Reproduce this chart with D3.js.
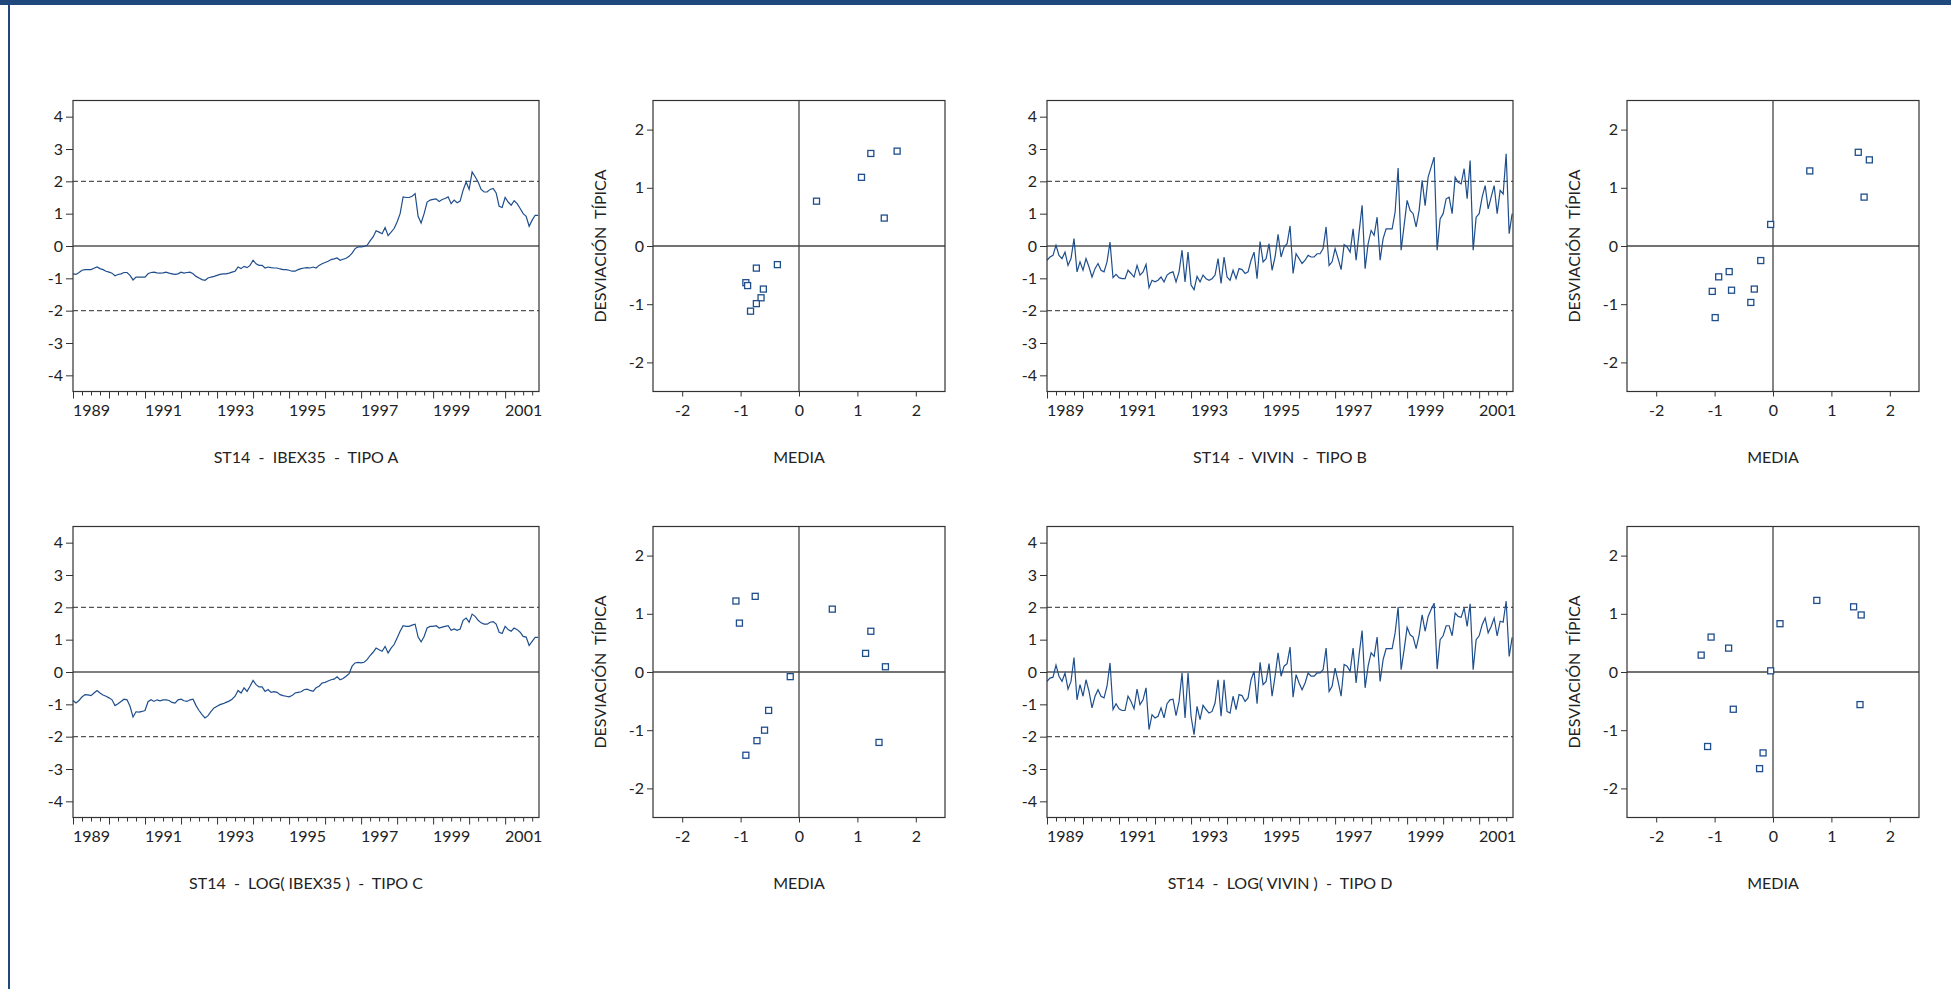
<!DOCTYPE html>
<html>
  <head>
    <title>ST14 - tipificadas</title>
    <script src="https://cdn.jsdelivr.net/npm/d3@7"></script>
    <style>
      body { margin: 0; background: #fff; }
      text { font-family: Lato, "Open Sans", sans-serif; fill: #222; }
    </style>
  </head>
  <body>
    <svg width="1951" height="989"></svg>
    <script>
      // monthly standardized series, 1989M01 .. 2001M12
      const ibex = [
        -0.86,-0.88,-0.82,-0.75,-0.73,-0.73,-0.73,-0.69,-0.65,-0.70,-0.73,-0.78,
        -0.81,-0.84,-0.92,-0.88,-0.86,-0.82,-0.82,-0.91,-1.05,-0.96,-0.96,-0.96,
        -0.96,-0.86,-0.82,-0.81,-0.83,-0.84,-0.83,-0.81,-0.84,-0.86,-0.88,-0.86,
        -0.81,-0.84,-0.82,-0.81,-0.86,-0.94,-0.99,-1.04,-1.06,-0.99,-0.96,-0.94,
        -0.91,-0.88,-0.86,-0.86,-0.84,-0.81,-0.78,-0.65,-0.70,-0.63,-0.67,-0.60,
        -0.44,-0.55,-0.60,-0.60,-0.68,-0.65,-0.67,-0.68,-0.68,-0.71,-0.73,-0.73,
        -0.75,-0.78,-0.78,-0.73,-0.70,-0.68,-0.67,-0.68,-0.65,-0.68,-0.60,-0.55,
        -0.51,-0.47,-0.42,-0.40,-0.37,-0.44,-0.41,-0.38,-0.32,-0.22,-0.08,-0.03,
        -0.03,-0.01,0.02,0.16,0.28,0.47,0.43,0.38,0.57,0.32,0.43,0.54,
        0.74,1.00,1.52,1.50,1.50,1.54,1.62,0.92,0.71,1.00,1.36,1.42,
        1.44,1.46,1.38,1.44,1.47,1.52,1.31,1.42,1.34,1.39,1.73,1.98,
        1.75,2.29,2.14,1.98,1.75,1.67,1.67,1.75,1.78,1.64,1.23,1.19,
        1.50,1.36,1.26,1.40,1.31,1.16,1.00,0.92,0.61,0.80,0.95,0.95
      ];
      const vivin = [
        -0.44,-0.34,-0.29,0.02,-0.29,-0.39,-0.19,-0.60,-0.39,0.23,-0.80,-0.49,
        -0.75,-0.39,-0.65,-0.96,-0.70,-0.54,-0.75,-0.80,-0.49,0.12,-0.98,-0.88,
        -0.98,-1.01,-1.01,-0.75,-0.85,-0.96,-0.60,-0.90,-0.80,-0.57,-1.29,-1.06,
        -1.11,-1.06,-0.96,-1.11,-0.90,-0.83,-0.80,-1.11,-0.80,-0.13,-1.11,-0.19,
        -1.21,-1.35,-0.94,-1.11,-0.90,-1.01,-1.06,-1.01,-0.90,-0.39,-1.16,-0.34,
        -0.96,-1.06,-0.75,-1.01,-0.70,-0.73,-0.85,-0.80,-0.44,-0.19,-1.01,0.14,
        -0.49,-0.39,0.07,-0.75,-0.34,0.36,-0.34,-0.03,0.07,0.62,-0.85,-0.24,
        -0.39,-0.54,-0.44,-0.29,-0.34,-0.34,-0.24,-0.24,-0.08,0.59,-0.60,-0.49,
        -0.08,-0.39,-0.73,0.04,-0.03,-0.19,0.53,-0.44,0.43,1.26,-0.70,0.07,
        0.48,0.33,0.89,-0.44,0.23,0.53,0.53,0.53,1.05,2.41,-0.13,0.64,
        1.41,1.10,1.00,0.59,1.10,2.03,1.25,2.13,2.44,2.75,-0.13,0.84,
        1.00,1.46,1.51,1.00,2.13,1.97,1.92,2.39,1.46,2.64,-0.13,0.89,
        1.00,1.51,1.87,1.15,1.51,1.87,1.00,1.72,1.61,2.85,0.38,1.00
      ];
      const logIbex = [
        -0.88,-0.96,-0.88,-0.77,-0.70,-0.71,-0.73,-0.65,-0.57,-0.65,-0.71,-0.75,
        -0.80,-0.86,-1.04,-0.98,-0.91,-0.84,-0.86,-1.06,-1.39,-1.23,-1.24,-1.22,
        -1.19,-0.92,-0.86,-0.91,-0.86,-0.89,-0.86,-0.86,-0.88,-0.94,-0.96,-0.86,
        -0.84,-0.89,-0.91,-0.86,-0.84,-1.04,-1.19,-1.32,-1.42,-1.35,-1.22,-1.11,
        -1.06,-1.01,-0.98,-0.94,-0.90,-0.84,-0.75,-0.57,-0.65,-0.49,-0.60,-0.44,
        -0.26,-0.39,-0.46,-0.46,-0.60,-0.54,-0.63,-0.61,-0.63,-0.70,-0.73,-0.75,
        -0.77,-0.73,-0.65,-0.63,-0.61,-0.55,-0.53,-0.57,-0.60,-0.49,-0.44,-0.34,
        -0.32,-0.28,-0.24,-0.22,-0.15,-0.24,-0.20,-0.13,-0.05,0.18,0.28,0.30,
        0.28,0.30,0.38,0.51,0.61,0.74,0.69,0.64,0.79,0.59,0.74,0.85,
        1.05,1.26,1.43,1.41,1.41,1.45,1.48,1.08,0.93,1.10,1.36,1.41,
        1.41,1.43,1.36,1.39,1.41,1.43,1.29,1.33,1.29,1.33,1.60,1.67,
        1.54,1.79,1.72,1.60,1.52,1.48,1.48,1.54,1.56,1.48,1.23,1.19,
        1.41,1.31,1.26,1.36,1.31,1.23,1.10,1.08,0.82,0.95,1.07,1.07
      ];
      const logVivin = [
        -0.29,-0.19,-0.16,0.21,-0.13,-0.29,-0.03,-0.53,-0.29,0.45,-0.86,-0.39,
        -0.75,-0.24,-0.60,-1.11,-0.75,-0.55,-0.75,-0.80,-0.44,0.28,-1.16,-0.98,
        -1.14,-1.19,-1.19,-0.75,-0.91,-1.14,-0.53,-1.01,-0.86,-0.49,-1.78,-1.32,
        -1.42,-1.37,-1.11,-1.42,-0.98,-0.86,-0.84,-1.35,-0.91,-0.03,-1.42,-0.03,
        -1.37,-1.94,-1.06,-1.47,-1.03,-1.16,-1.27,-1.22,-0.96,-0.24,-1.37,-0.24,
        -1.22,-1.27,-0.75,-1.16,-0.70,-0.73,-0.91,-0.80,-0.24,0.02,-0.98,0.30,
        -0.39,-0.29,0.26,-0.75,-0.13,0.59,-0.13,0.18,0.26,0.77,-0.78,-0.08,
        -0.34,-0.55,-0.34,-0.03,-0.13,-0.13,-0.03,-0.03,0.07,0.74,-0.60,-0.44,
        0.12,-0.29,-0.75,0.23,0.18,0.02,0.74,-0.34,0.54,1.28,-0.49,0.18,
        0.59,0.48,1.08,-0.29,0.38,0.72,0.72,0.72,1.21,2.01,0.07,0.69,
        1.38,1.15,1.08,0.72,1.15,1.77,1.26,1.72,1.93,2.13,0.09,1.00,
        1.12,1.43,1.43,1.12,1.82,1.72,1.69,1.98,1.41,2.11,0.07,1.00,
        1.12,1.46,1.67,1.21,1.41,1.67,1.12,1.57,1.54,2.19,0.48,1.07
      ];

      // yearly mean / standard deviation (standardized), one point per year
      const mediaA = [0.30, 1.07, 1.23, 1.68, 1.46, -0.37, -0.73, -0.91, -0.88, -0.61, -0.65, -0.73, -0.83];
      const desvA  = [0.77, 1.18, 1.59, 1.63, 0.48, -0.32, -0.38, -0.63, -0.68, -0.74, -0.89, -0.99, -1.12];
      const mediaB = [0.63, 1.46, 1.65, 1.56, -0.04, -0.21, -0.75, -0.93, -1.04, -0.71, -0.32, -0.38, -0.99];
      const desvB  = [1.29, 1.61, 1.48, 0.84, 0.37, -0.25, -0.44, -0.53, -0.78, -0.76, -0.74, -0.97, -1.23];
      const mediaC = [-1.08, -0.75, -1.02, 0.57, 1.23, 1.14, 1.48, -0.15, -0.52, -0.59, -0.72, -0.91, 1.37];
      const desvC  = [1.22, 1.30, 0.84, 1.08, 0.70, 0.32, 0.09, -0.08, -0.66, -1.00, -1.18, -1.43, -1.21];
      const mediaD = [-1.23, -1.06, -0.76, 0.12, 0.75, 1.38, 1.51, -0.04, 1.49, -0.68, -1.12, -0.17, -0.23];
      const desvD  = [0.29, 0.60, 0.41, 0.83, 1.23, 1.12, 0.98, 0.02, -0.56, -0.64, -1.28, -1.39, -1.66];

      const titles = [
        "ST14  -  IBEX35  -  TIPO A",
        "ST14  -  VIVIN  -  TIPO B",
        "ST14  -  LOG( IBEX35 )  -  TIPO C",
        "ST14  -  LOG( VIVIN )  -  TIPO D"
      ];
      const yearLabels = [1989, 1991, 1993, 1995, 1997, 1999, 2001];
      const levelTicks = [-4, -3, -2, -1, 0, 1, 2, 3, 4];
      const scatterTicks = [-2, -1, 0, 1, 2];

      const svg = d3.select("svg");
      const blue = "#1f4e8c";
      const fmt = d => String(d);

      // page decoration
      svg.append("rect").attr("x", 0).attr("y", 0).attr("width", 1951).attr("height", 5).attr("fill", "#1f497d");
      svg.append("rect").attr("x", 8).attr("y", 0).attr("width", 2).attr("height", 989).attr("fill", "#1f497d");

      function styleAxis(g){
        g.select(".domain").remove();
        g.selectAll("line").attr("stroke", "#333");
        g.selectAll("text").attr("font-size", 16).attr("font-family", "Lato").attr("fill", "#222");
        g.attr("font-size", null).attr("font-family", null);
      }

      function seriesPanel(x0, y0, w, h, values, title){
        const x = d3.scaleLinear().domain([1989, 2001.94]).range([x0, x0 + w]);
        const y = d3.scaleLinear().domain([-4.5, 4.5]).range([y0 + h, y0]);
        const g = svg.append("g");

        g.append("g").attr("transform", `translate(${x0},0)`)
          .call(d3.axisLeft(y).tickValues(levelTicks).tickSize(7).tickPadding(3).tickFormat(fmt))
          .call(styleAxis);

        const quarters = d3.range(1989, 2002, 0.25).filter(q => q % 1 !== 0 && q < 2001.94);
        g.append("g").attr("transform", `translate(0,${y0 + h})`)
          .call(d3.axisBottom(x).tickValues(quarters).tickSize(4).tickFormat(""))
          .call(styleAxis);
        g.append("g").attr("transform", `translate(0,${y0 + h})`)
          .call(d3.axisBottom(x).tickValues(d3.range(1989, 2002)).tickSize(7).tickFormat(""))
          .call(styleAxis);
        g.append("g").attr("transform", `translate(0,${y0 + h})`)
          .call(d3.axisBottom(x).tickValues(yearLabels.map(v => v + 0.5)).tickSize(0).tickPadding(13).tickFormat(d => Math.floor(d)))
          .call(styleAxis);

        g.append("line").attr("x1", x0).attr("x2", x0 + w).attr("y1", y(0)).attr("y2", y(0))
          .attr("stroke", "#555").attr("stroke-width", 1.4);
        [2, -2].forEach(v => {
          g.append("line").attr("x1", x0).attr("x2", x0 + w).attr("y1", y(v)).attr("y2", y(v))
            .attr("stroke", "#555").attr("stroke-width", 1.2).attr("stroke-dasharray", "5,3");
        });

        const line = d3.line().x((d, i) => x(1989 + i / 12)).y(d => y(d));
        g.append("path").datum(values).attr("d", line)
          .attr("fill", "none").attr("stroke", blue).attr("stroke-width", 1.2);

        g.append("rect").attr("x", x0).attr("y", y0).attr("width", w).attr("height", h)
          .attr("fill", "none").attr("stroke", "#333").attr("stroke-width", 1.2);

        g.append("text").attr("x", x0 + w / 2).attr("y", y0 + h + 71)
          .attr("text-anchor", "middle").attr("font-size", 16).style("white-space", "pre")
          .text(title);
      }

      function scatterPanel(x0, y0, w, h, xs, ys){
        const x = d3.scaleLinear().domain([-2.5, 2.5]).range([x0, x0 + w]);
        const y = d3.scaleLinear().domain([-2.5, 2.5]).range([y0 + h, y0]);
        const g = svg.append("g");

        g.append("g").attr("transform", `translate(${x0},0)`)
          .call(d3.axisLeft(y).tickValues(scatterTicks).tickSize(6).tickPadding(3).tickFormat(fmt))
          .call(styleAxis);
        g.append("g").attr("transform", `translate(0,${y0 + h})`)
          .call(d3.axisBottom(x).tickValues(scatterTicks).tickSize(5).tickPadding(8).tickFormat(fmt))
          .call(styleAxis);

        g.append("line").attr("x1", x0).attr("x2", x0 + w).attr("y1", y(0)).attr("y2", y(0))
          .attr("stroke", "#444").attr("stroke-width", 1.3);
        g.append("line").attr("x1", x(0)).attr("x2", x(0)).attr("y1", y0).attr("y2", y0 + h)
          .attr("stroke", "#444").attr("stroke-width", 1.3);

        g.selectAll("rect.pt").data(xs).enter().append("rect").attr("class", "pt")
          .attr("x", d => x(d) - 3).attr("y", (d, i) => y(ys[i]) - 3)
          .attr("width", 6).attr("height", 6)
          .attr("fill", "#fff").attr("stroke", blue).attr("stroke-width", 1.3);

        g.append("rect").attr("x", x0).attr("y", y0).attr("width", w).attr("height", h)
          .attr("fill", "none").attr("stroke", "#333").attr("stroke-width", 1.2);

        g.append("text").attr("transform", `translate(${x0 - 47},${y0 + h / 2}) rotate(-90)`)
          .attr("text-anchor", "middle").attr("font-size", 16).style("white-space", "pre")
          .text("DESVIACIÓN  TÍPICA");
        g.append("text").attr("x", x0 + w / 2).attr("y", y0 + h + 71)
          .attr("text-anchor", "middle").attr("font-size", 16)
          .text("MEDIA");
      }

      const lineW = 466, boxW = 292, h = 291;
      const top1 = 100.5, top2 = 526.5;

      seriesPanel(73, top1, lineW, h, ibex, titles[0]);
      scatterPanel(653, top1, boxW, h, mediaA, desvA);
      seriesPanel(1047, top1, lineW, h, vivin, titles[1]);
      scatterPanel(1627, top1, boxW, h, mediaB, desvB);

      seriesPanel(73, top2, lineW, h, logIbex, titles[2]);
      scatterPanel(653, top2, boxW, h, mediaC, desvC);
      seriesPanel(1047, top2, lineW, h, logVivin, titles[3]);
      scatterPanel(1627, top2, boxW, h, mediaD, desvD);
    </script>
  </body>
</html>
